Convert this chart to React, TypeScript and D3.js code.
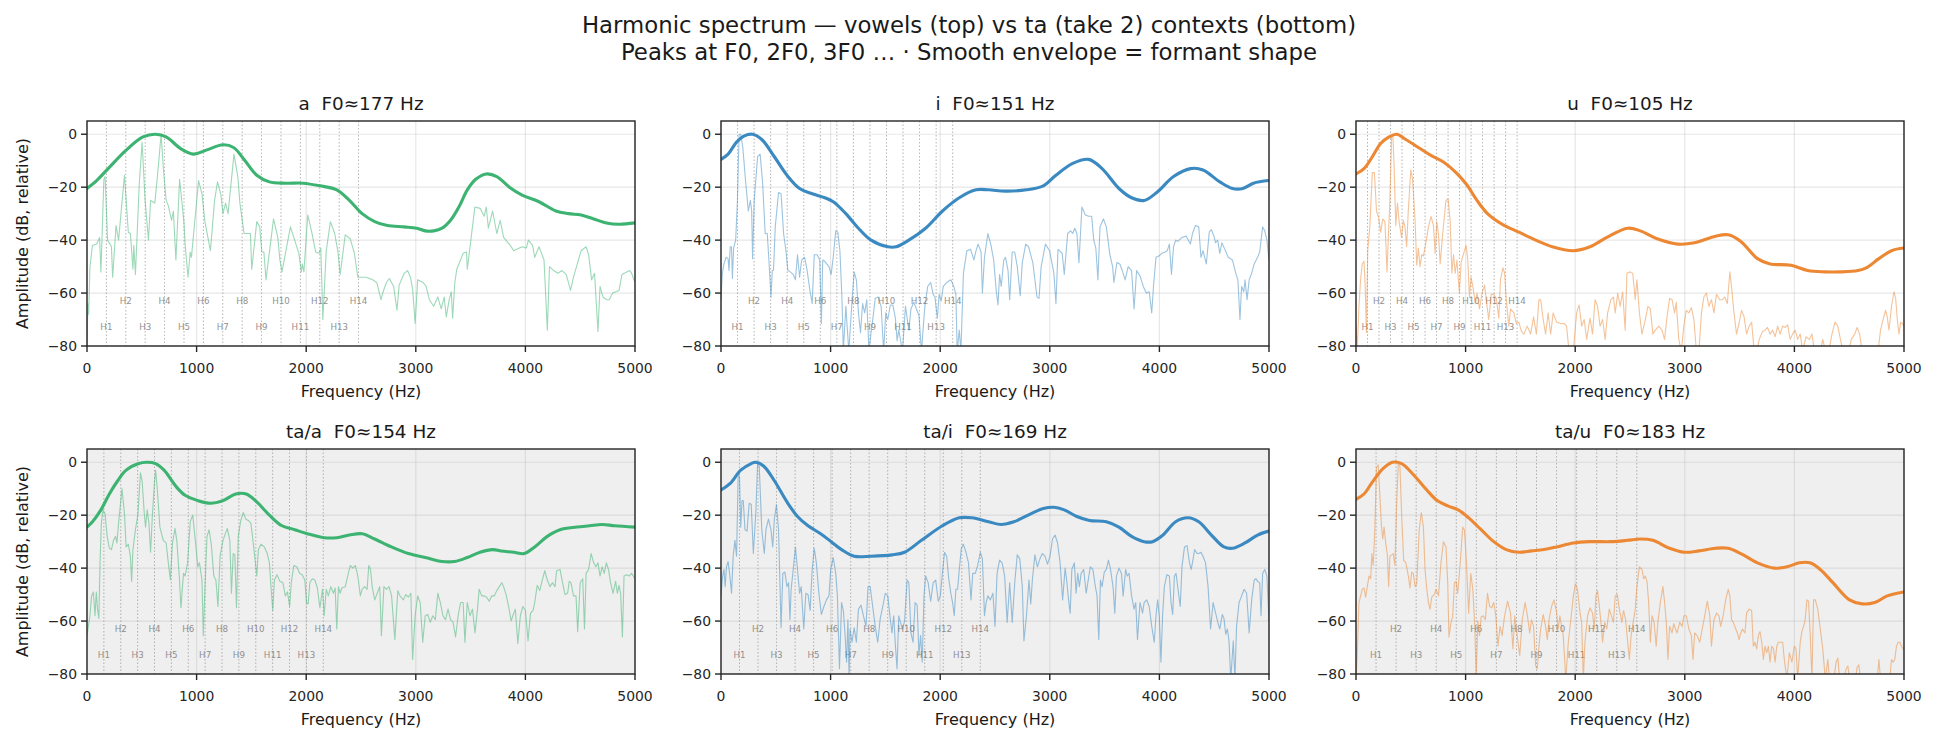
import React from "react";
import * as d3 from "d3";

type P = [number, number];

const SUPTITLE_1 = "Harmonic spectrum — vowels (top) vs ta (take 2) contexts (bottom)";
const SUPTITLE_2 = "Peaks at F0, 2F0, 3F0 … · Smooth envelope = formant shape";
const TITLES = ["a  F0≈177 Hz", "i  F0≈151 Hz", "u  F0≈105 Hz", "ta/a  F0≈154 Hz", "ta/i  F0≈169 Hz", "ta/u  F0≈183 Hz"];
const F0S = [177, 151, 105, 154, 169, 183];
const COLORS = ["#3cb371", "#3a89c1", "#ec8833", "#3cb371", "#3a89c1", "#ec8833"];
const X_TICKS = [0, 1000, 2000, 3000, 4000, 5000];
const Y_TICKS = [0, -20, -40, -60, -80];
const N_HARM = 14;

// ---- a ----
const specA: P[] = [[0,-80],[8,-64],[15,-68],[27,-50],[50,-42],[88,-41.5],[115,-39],[127,-52],[154,-17],[165,-16],[188,-40],[223,-42.5],[234,-54],[265,-34.5],[288,-40],[342,-15.5],[377,-37],[396,-37.5],[419,-51],[427,-42],[442,-53],[477,-18.5],[503,-3],[530,-25],[561,-40],[580,-25],[619,-26],[650,-12.5],[676,0],[696,-12.5],[722,-25],[742,-27],[772,-32.5],[788,-29],[811,-47.5],[845,-17],[884,-33],[895,-41.5],[922,-54],[942,-44.5],[953,-46.5],[992,-29],[1018,-17.5],[1049,-22.5],[1076,-33],[1126,-44],[1164,-25],[1191,-18],[1222,-23],[1241,-30],[1264,-26],[1287,-30],[1341,-7.5],[1376,-16],[1395,-26],[1433,-37.5],[1491,-37.5],[1503,-51],[1549,-33],[1576,-35],[1595,-44.5],[1614,-44.5],[1633,-55],[1702,-32],[1741,-39],[1760,-47.5],[1779,-52],[1856,-35],[1895,-40],[1933,-45],[1956,-52],[1964,-49],[1979,-52],[2014,-30.5],[2048,-36.5],[2087,-44.5],[2117,-45],[2133,-43],[2152,-70],[2183,-44],[2221,-33],[2260,-37.5],[2290,-44.5],[2310,-53],[2356,-38],[2402,-39.5],[2440,-45],[2471,-54],[2548,-54],[2606,-55],[2644,-56],[2682,-62.5],[2702,-59.5],[2732,-56],[2759,-54.5],[2798,-57.5],[2828,-66.5],[2848,-57],[2894,-52.5],[2925,-51.5],[2951,-54],[2971,-58.5],[2994,-71.5],[3017,-55],[3067,-56],[3094,-57.5],[3124,-62.5],[3163,-65],[3201,-61.5],[3232,-66],[3259,-61.5],[3278,-69],[3305,-62.5],[3324,-59.5],[3336,-69.5],[3355,-56.5],[3374,-51],[3432,-45],[3463,-44.5],[3470,-51],[3539,-27.5],[3586,-28],[3624,-31],[3643,-27.5],[3662,-35.5],[3701,-29],[3739,-37.5],[3770,-32.5],[3801,-39],[3862,-42],[3893,-44],[3970,-42.5],[4008,-43],[4027,-40],[4066,-42],[4085,-46.5],[4124,-42.5],[4170,-47.5],[4200,-74],[4220,-50],[4258,-51.5],[4296,-52.5],[4335,-51.5],[4373,-53],[4412,-59],[4439,-54],[4508,-44],[4554,-42.5],[4577,-45.5],[4604,-55],[4631,-52.5],[4662,-74.5],[4681,-57.5],[4708,-61.5],[4738,-62.5],[4765,-62.5],[4796,-60],[4854,-59],[4881,-53],[4950,-51.5],[4969,-52.5],[5000,-56]];
const envA: P[] = [[0,-20.5],[88,-17.5],[204,-12.5],[357,-6],[511,-1],[626,0],[722,-1],[857,-5.5],[972,-7.5],[1088,-6],[1241,-4],[1337,-5],[1433,-9.5],[1549,-15.5],[1664,-18],[1818,-18.5],[1971,-18.5],[2125,-19.5],[2279,-21],[2394,-25],[2510,-30],[2625,-33],[2740,-34.5],[2894,-35],[3009,-35.5],[3086,-36.5],[3163,-36.5],[3240,-35.5],[3317,-32.5],[3393,-27.5],[3470,-21],[3547,-17],[3643,-15],[3739,-16],[3854,-20],[3970,-23],[4124,-25.5],[4278,-29],[4393,-30],[4508,-30.5],[4623,-32],[4739,-33.5],[4854,-34],[5000,-33.5]];

// ---- i ----
const specI: P[] = [[0,-62.5],[12,-52.5],[27,-49],[46,-46.5],[65,-47],[73,-51.5],[84,-42.5],[96,-42.5],[104,-54.5],[115,-43],[134,-40],[150,-25],[165,0],[180,0],[199,-5],[226,-18.5],[249,-29],[268,-25],[280,-29],[288,-47],[303,-25],[334,-8.5],[357,-7.5],[380,-18.5],[403,-37.5],[422,-37.5],[437,-47.5],[456,-61.5],[468,-51.5],[479,-51.5],[495,-35],[525,-22],[548,-22.5],[571,-37.5],[594,-44.5],[610,-51.5],[633,-52],[659,-53],[679,-55],[698,-45.5],[717,-54],[736,-47.5],[763,-46.5],[786,-51.5],[813,-59.5],[832,-64],[851,-45.5],[878,-45.5],[901,-47.5],[916,-71.5],[928,-47.5],[947,-48],[985,-50],[1005,-53],[1024,-46.5],[1047,-36.5],[1066,-37],[1085,-44],[1104,-62.5],[1116,-82],[1139,-65],[1166,-82],[1196,-62.5],[1215,-52],[1235,-55],[1254,-67.5],[1273,-75],[1292,-64],[1311,-67.5],[1330,-62.5],[1350,-82],[1369,-75],[1392,-67.5],[1407,-62],[1434,-61.5],[1461,-65],[1484,-82],[1503,-67.5],[1522,-70],[1545,-64.5],[1568,-64.5],[1591,-69.5],[1607,-78],[1622,-74],[1656,-82],[1683,-65],[1714,-74],[1733,-66],[1760,-63.5],[1783,-66],[1806,-68.5],[1829,-82],[1860,-65],[1886,-57.5],[1913,-56],[1936,-60.5],[1952,-61.5],[1974,-69.5],[1990,-60.5],[2009,-63],[2028,-57.5],[2059,-56],[2097,-55],[2124,-57.5],[2143,-60.5],[2155,-82],[2174,-74],[2189,-82],[2212,-52.5],[2243,-44],[2277,-43.5],[2308,-47.5],[2327,-44],[2346,-41.5],[2373,-44.5],[2385,-60],[2404,-46.5],[2435,-37.5],[2461,-41.5],[2488,-47.5],[2511,-59],[2527,-64.5],[2542,-53],[2557,-57.5],[2580,-47.5],[2596,-46.5],[2619,-51.5],[2634,-62.5],[2657,-44.5],[2680,-44.5],[2703,-50],[2730,-61],[2749,-48.5],[2780,-41.5],[2806,-42.5],[2845,-48.5],[2883,-61.5],[2902,-62],[2921,-50],[2960,-41.5],[2998,-44],[3037,-52.5],[3056,-64],[3075,-43.5],[3113,-45],[3132,-53],[3163,-37.5],[3190,-36.5],[3209,-37.5],[3228,-35.5],[3247,-37.5],[3266,-48.5],[3293,-27.5],[3324,-30.5],[3355,-31],[3382,-31],[3401,-40],[3420,-43],[3439,-55],[3458,-35],[3489,-32],[3516,-35],[3546,-45],[3573,-50],[3585,-56],[3612,-48.5],[3639,-49],[3661,-51.5],[3688,-55],[3715,-50],[3746,-51.5],[3769,-66],[3792,-51.5],[3823,-53.5],[3853,-57.5],[3880,-60],[3907,-59.5],[3930,-67.5],[3946,-57.5],[3969,-46.5],[3995,-46],[4022,-45],[4053,-44.5],[4072,-44],[4091,-41.5],[4110,-53],[4129,-42.5],[4149,-40],[4168,-40.5],[4206,-39],[4244,-38.5],[4263,-40],[4283,-41.5],[4302,-37.5],[4329,-34.5],[4359,-35],[4379,-46.5],[4398,-44],[4428,-49],[4455,-37],[4474,-36],[4497,-38.5],[4513,-41],[4532,-40],[4551,-45],[4570,-41],[4597,-43.5],[4628,-46.5],[4666,-47.5],[4697,-52.5],[4716,-55],[4735,-70],[4750,-57.5],[4770,-59.5],[4781,-55],[4800,-62.5],[4819,-55],[4842,-52.5],[4865,-49],[4896,-46.5],[4915,-44.5],[4942,-35],[4961,-36.5],[4981,-40],[5000,-47.5]];
const envI: P[] = [[0,-9.5],[65,-7.5],[142,-3],[218,-0.5],[288,0],[372,-2],[487,-8.5],[602,-15.5],[717,-20.5],[832,-22.5],[947,-24],[1024,-25.5],[1139,-30],[1254,-35.5],[1369,-40],[1522,-42.5],[1599,-42.5],[1714,-40],[1867,-35.5],[2021,-29],[2174,-24],[2327,-21],[2442,-21],[2596,-21.5],[2787,-21],[2941,-19.5],[3056,-15.5],[3209,-11],[3355,-9.5],[3477,-13],[3631,-20.5],[3746,-24],[3861,-25],[3976,-22],[4129,-16],[4283,-13],[4398,-13.5],[4551,-18],[4666,-20.5],[4762,-20.5],[4858,-18.5],[5000,-17.5]];

// ---- u ----
const specU: P[] = [[0,-72.5],[11,-82],[27,-65],[42,-55],[57,-49],[73,-48],[84,-57.5],[95,-75],[107,-44],[126,-35],[149,-14.5],[168,-14.5],[187,-29],[206,-31.5],[225,-37],[244,-32],[264,-33],[283,-52],[294,-40],[309,-25],[325,-1],[336,0],[348,-12.5],[363,-34.5],[378,-26],[393,-33],[416,-39],[432,-32.5],[447,-35],[462,-42.5],[477,-29],[500,-13.5],[516,-17],[539,-32.5],[554,-49.5],[569,-43],[584,-50],[600,-45.5],[615,-46],[638,-41],[661,-35],[684,-31],[707,-34.5],[722,-45],[737,-33],[753,-38],[768,-49],[791,-37.5],[821,-25],[840,-24.5],[859,-32.5],[875,-52.5],[890,-45.5],[905,-52.5],[921,-47.5],[943,-60],[959,-48.5],[982,-45],[1005,-42],[1020,-47.5],[1035,-61.5],[1050,-54],[1066,-57.5],[1089,-64],[1104,-60],[1127,-66],[1150,-60],[1173,-57],[1188,-62.5],[1211,-70],[1234,-60.5],[1257,-60.5],[1280,-62],[1303,-69.5],[1318,-55],[1341,-50.5],[1356,-52.5],[1371,-62.5],[1394,-72.5],[1410,-66],[1440,-67.5],[1463,-71.5],[1486,-71],[1509,-74.5],[1532,-75.5],[1562,-72.5],[1593,-75.5],[1620,-69],[1646,-75.5],[1669,-62.5],[1685,-62.5],[1708,-70],[1730,-75.5],[1753,-67.5],[1776,-75.5],[1799,-67.5],[1830,-71],[1868,-71.5],[1898,-71.5],[1921,-72.5],[1944,-82],[1983,-82],[2013,-67.5],[2036,-64.5],[2059,-72.5],[2082,-70],[2105,-77.5],[2135,-69.5],[2158,-75.5],[2181,-62.5],[2204,-65],[2227,-72.5],[2250,-70],[2273,-77.5],[2296,-67.5],[2326,-62.5],[2349,-61.5],[2365,-67.5],[2388,-60],[2410,-65],[2433,-59.5],[2456,-74],[2472,-52.5],[2502,-52],[2525,-52.5],[2548,-62.5],[2563,-55],[2586,-67.5],[2609,-75.5],[2640,-70],[2663,-65],[2686,-66],[2709,-75.5],[2731,-74],[2762,-72.5],[2792,-74],[2815,-77.5],[2838,-69],[2861,-62],[2884,-62.5],[2907,-67.5],[2922,-63.5],[2945,-77.5],[2968,-82],[2991,-72.5],[3014,-66.5],[3037,-67.5],[3060,-65.5],[3083,-70],[3106,-82],[3129,-82],[3152,-67.5],[3174,-61.5],[3197,-60],[3220,-65],[3243,-62.5],[3266,-67.5],[3289,-60.5],[3319,-62.5],[3342,-62.5],[3365,-61.5],[3388,-64],[3411,-52],[3426,-57.5],[3449,-67.5],[3472,-75.5],[3495,-71.5],[3518,-66.5],[3541,-69],[3564,-75.5],[3587,-72.5],[3610,-71],[3633,-82],[3656,-82],[3679,-77.5],[3709,-74.5],[3732,-74],[3755,-73],[3778,-75.5],[3801,-74],[3824,-76.5],[3847,-72.5],[3870,-75.5],[3893,-72.5],[3915,-73],[3938,-72],[3961,-77.5],[3984,-75.5],[4007,-74],[4030,-77.5],[4053,-75.5],[4076,-82],[4106,-76.5],[4136,-77.5],[4160,-75.5],[4183,-82],[4236,-82],[4259,-77.5],[4282,-82],[4313,-82],[4343,-75.5],[4370,-71],[4396,-72.5],[4420,-77.5],[4443,-82],[4496,-82],[4519,-77.5],[4550,-75.5],[4572,-73],[4595,-75.5],[4618,-82],[4763,-82],[4786,-74],[4809,-70],[4832,-66.5],[4847,-69],[4863,-74],[4886,-65],[4909,-59.5],[4924,-62],[4939,-70],[4954,-75.5],[4970,-71],[4985,-71.5],[5000,-72.5]];
const envU: P[] = [[0,-15],[73,-13],[149,-8.5],[225,-3.5],[302,-1],[371,0],[455,-2],[569,-5],[684,-8],[798,-10.5],[913,-14.5],[1009,-19],[1104,-25],[1200,-30],[1333,-34],[1486,-37],[1639,-40],[1791,-42.5],[1983,-44],[2135,-42.5],[2288,-39],[2479,-35.5],[2594,-36.5],[2747,-39.5],[2938,-41.5],[3090,-41],[3281,-38.5],[3396,-38],[3511,-40.5],[3663,-47],[3778,-49],[3969,-49.5],[4122,-51.5],[4274,-52],[4427,-52],[4580,-51.5],[4656,-50.5],[4771,-47],[4886,-44],[5000,-43]];

// ---- ta/a ----
const specTaA: P[] = [[0,-65.5],[12,-62],[27,-58],[42,-50.5],[58,-49],[73,-58],[85,-49],[96,-55.5],[108,-59],[119,-38],[131,-23],[146,-18],[165,-19.5],[184,-28],[204,-32.5],[223,-33],[242,-29.5],[261,-28],[273,-30.5],[288,-23],[319,-10],[342,-19.5],[357,-32],[377,-31],[396,-35.5],[407,-45],[419,-33],[442,-25.5],[465,-19.5],[488,-4],[503,-7],[522,-19],[534,-24.5],[549,-18],[565,-23],[580,-34],[596,-20.5],[615,-8],[626,-3],[642,-10.5],[665,-24.5],[696,-29.5],[722,-30.5],[742,-38],[761,-44.5],[780,-30.5],[803,-25],[819,-29.5],[842,-43],[857,-55],[880,-42],[895,-43],[918,-38],[942,-22.5],[965,-20],[988,-29.5],[1011,-39.5],[1026,-38],[1049,-44.5],[1061,-65.5],[1076,-48],[1095,-28],[1114,-25.5],[1134,-31],[1157,-43],[1176,-44.5],[1195,-54.5],[1214,-35.5],[1241,-29.5],[1280,-25],[1303,-29.5],[1318,-49.5],[1334,-34.5],[1349,-35],[1364,-55],[1380,-28],[1403,-22],[1426,-19],[1449,-21.5],[1472,-22],[1495,-23],[1510,-28],[1530,-35.5],[1549,-43],[1564,-33],[1587,-31],[1618,-32],[1645,-34.5],[1664,-38],[1683,-49.5],[1695,-56],[1710,-44.5],[1733,-42.5],[1760,-45],[1787,-45.5],[1810,-50.5],[1829,-49],[1849,-54.5],[1864,-45.5],[1887,-39],[1914,-39.5],[1941,-42],[1964,-42.5],[1987,-44.5],[2003,-53],[2018,-53.5],[2033,-45.5],[2056,-44],[2079,-44.5],[2102,-47.5],[2125,-55],[2149,-48],[2164,-58],[2183,-48],[2202,-50.5],[2225,-47],[2248,-49.5],[2264,-47.5],[2279,-63],[2294,-47],[2310,-49.5],[2325,-47.5],[2356,-47],[2379,-43],[2402,-39],[2425,-40],[2448,-39],[2471,-43],[2494,-50.5],[2510,-48],[2533,-47],[2556,-48],[2571,-39],[2587,-40.5],[2602,-47],[2625,-52],[2648,-49.5],[2671,-47],[2686,-65.5],[2709,-47],[2733,-48],[2756,-47],[2779,-50.5],[2809,-67],[2836,-48.5],[2856,-50.5],[2886,-52],[2909,-50],[2932,-51],[2955,-49.5],[2971,-74.5],[2994,-58],[3017,-50.5],[3040,-53],[3063,-68],[3086,-58],[3109,-57.5],[3132,-60.5],[3155,-58],[3178,-59.5],[3201,-49.5],[3224,-53],[3248,-58],[3271,-59.5],[3294,-55.5],[3317,-59.5],[3340,-60.5],[3363,-66],[3386,-58],[3409,-53],[3432,-53],[3448,-68],[3470,-53],[3494,-58],[3517,-55.5],[3540,-64.5],[3563,-55.5],[3578,-48],[3601,-50.5],[3624,-50.5],[3647,-51],[3670,-52.5],[3693,-50.5],[3716,-50.5],[3739,-48.5],[3762,-47],[3785,-45.5],[3801,-47],[3824,-50],[3847,-54.5],[3870,-60],[3885,-58],[3908,-55.5],[3931,-68.5],[3954,-58],[3977,-54.5],[4000,-56],[4024,-67.5],[4047,-57],[4070,-56],[4085,-53],[4108,-46.5],[4131,-48.5],[4154,-44.5],[4177,-41],[4200,-44.5],[4224,-47],[4247,-45.5],[4270,-47],[4285,-41],[4316,-40.5],[4339,-45.5],[4362,-50],[4385,-49.5],[4400,-45],[4416,-45.5],[4439,-50.5],[4462,-50.5],[4477,-64],[4500,-45.5],[4523,-44],[4539,-63],[4554,-42],[4577,-40.5],[4600,-34.5],[4623,-38],[4643,-39.5],[4662,-38],[4681,-43],[4700,-39.5],[4719,-42],[4739,-38],[4758,-40.5],[4777,-45.5],[4800,-49.5],[4823,-45],[4839,-49.5],[4854,-46.5],[4869,-49.5],[4885,-66],[4900,-43],[4923,-42.5],[4946,-43],[4969,-42],[5000,-44]];
const envTaA: P[] = [[0,-24.5],[50,-22.5],[127,-18],[204,-12],[280,-7],[357,-3],[472,-0.5],[541,0],[626,-0.5],[703,-3],[819,-9.5],[895,-12.5],[1011,-14.5],[1126,-15.5],[1241,-14.5],[1357,-12],[1453,-12],[1549,-15],[1664,-20],[1779,-24],[1895,-25.5],[2010,-27],[2164,-28.5],[2279,-28.5],[2394,-27.5],[2510,-27],[2625,-29],[2779,-32],[2932,-34.5],[3086,-36],[3240,-37.5],[3355,-37.5],[3470,-36],[3586,-34],[3701,-33],[3778,-33.5],[3893,-34],[3989,-34.5],[4085,-32],[4200,-28],[4316,-25.5],[4470,-24.5],[4585,-24],[4700,-23.5],[4815,-24],[5000,-24.5]];

// ---- ta/i ----
const specTaI: P[] = [[0,-50.5],[15,-43],[27,-40.5],[38,-47],[50,-39.5],[65,-37.5],[81,-43],[96,-49.5],[111,-35.5],[127,-29.5],[142,-35.5],[157,-4.5],[169,-5.5],[180,-24.5],[192,-14.5],[203,-14.5],[219,-25.5],[238,-26],[257,-15.5],[276,-16],[295,-34.5],[318,-19],[334,-0.5],[349,-1.5],[372,-25.5],[395,-34.5],[410,-25.5],[433,-21.5],[456,-25.5],[472,-32],[487,-21.5],[506,-16],[525,-25.5],[548,-62.5],[564,-42],[583,-41.5],[602,-47],[617,-45.5],[629,-59.5],[640,-48],[659,-40.5],[679,-32],[698,-40.5],[717,-49.5],[732,-47],[755,-63],[774,-49.5],[794,-50],[813,-56],[832,-40.5],[851,-32.5],[870,-38],[893,-49.5],[916,-57.5],[939,-54.5],[962,-52],[985,-50.5],[1001,-40.5],[1024,-36],[1047,-42],[1062,-50.5],[1081,-78],[1100,-53],[1116,-56],[1131,-64.5],[1146,-75.5],[1158,-59.5],[1169,-82],[1177,-63],[1196,-68],[1215,-62.5],[1235,-68],[1254,-55.5],[1277,-54],[1300,-58],[1323,-62],[1342,-47],[1361,-47],[1384,-54.5],[1407,-62],[1430,-68],[1453,-59],[1476,-54.5],[1499,-49.5],[1522,-50.5],[1541,-58],[1560,-64.5],[1576,-58],[1591,-69],[1606,-78],[1622,-58],[1637,-60.5],[1656,-63],[1675,-60],[1698,-44.5],[1714,-45.5],[1733,-64.5],[1752,-68],[1771,-53],[1790,-54],[1806,-73],[1821,-65.5],[1836,-75.5],[1852,-50.5],[1867,-43],[1890,-45.5],[1913,-52.5],[1936,-45.5],[1959,-44.5],[1982,-52.5],[2001,-50.5],[2020,-42],[2040,-34],[2059,-35.5],[2078,-44],[2097,-49.5],[2113,-53],[2128,-58],[2143,-48],[2159,-48],[2174,-40.5],[2193,-32.5],[2212,-31],[2235,-34],[2258,-38],[2281,-52],[2297,-42],[2320,-42],[2342,-39],[2366,-34],[2385,-36.5],[2404,-58],[2419,-53],[2435,-50.5],[2458,-52],[2481,-49.5],[2500,-62],[2519,-42],[2542,-37],[2565,-38],[2588,-43],[2611,-60.5],[2634,-45.5],[2657,-60.5],[2680,-45.5],[2703,-35],[2726,-36.5],[2749,-47],[2764,-67.5],[2787,-58],[2810,-44.5],[2826,-53.5],[2841,-44.5],[2864,-35],[2887,-39.5],[2910,-36.5],[2933,-34.5],[2956,-35.5],[2979,-38.5],[3002,-35.5],[3025,-29],[3048,-27.5],[3071,-30.5],[3094,-38],[3117,-52],[3140,-40],[3155,-45],[3171,-52],[3186,-57],[3201,-40.5],[3224,-38],[3240,-49.5],[3255,-42],[3270,-47],[3286,-42],[3309,-40.5],[3332,-49.5],[3347,-45.5],[3370,-39.5],[3393,-40.5],[3416,-47],[3431,-50.5],[3447,-67],[3462,-44.5],[3477,-47],[3497,-41.5],[3516,-40.5],[3535,-37],[3554,-40.5],[3577,-47],[3593,-57],[3608,-43],[3631,-40],[3654,-42],[3669,-50.5],[3692,-40.5],[3707,-43],[3723,-42],[3746,-50.5],[3769,-55.5],[3784,-53],[3800,-67],[3823,-53],[3846,-57],[3861,-53],[3884,-52],[3907,-54.5],[3930,-62],[3953,-68],[3969,-58],[3984,-52],[3999,-58],[4014,-75.5],[4029,-58],[4045,-47],[4068,-42.5],[4091,-43],[4106,-53],[4121,-57.5],[4137,-43],[4152,-42],[4167,-47],[4190,-54.5],[4206,-39.5],[4229,-32],[4252,-31.5],[4275,-38],[4290,-40.5],[4306,-37],[4321,-33],[4344,-34.5],[4359,-34.5],[4379,-34],[4398,-35.5],[4421,-38],[4444,-47],[4467,-63],[4490,-53],[4513,-57],[4536,-61],[4551,-63],[4574,-57.5],[4589,-59],[4605,-65],[4620,-63],[4635,-67.5],[4651,-82],[4674,-67.5],[4689,-82],[4704,-62],[4727,-53],[4750,-50.5],[4773,-48],[4796,-49.5],[4819,-64.5],[4842,-52],[4865,-44.5],[4881,-44],[4896,-45],[4915,-45.5],[4927,-58],[4942,-42],[4961,-40.5],[4981,-43],[5000,-60]];
const envTaI: P[] = [[0,-10.5],[84,-8],[180,-3],[276,-0.5],[318,0],[391,-1.5],[487,-7],[602,-15],[698,-20.5],[794,-24],[909,-27],[1005,-30],[1100,-33],[1215,-35.5],[1369,-35.5],[1560,-35],[1675,-34],[1829,-29.5],[2020,-24],[2174,-21],[2289,-21],[2442,-22.5],[2557,-23.5],[2672,-22.5],[2826,-19.5],[2941,-17.5],[3037,-17],[3132,-18],[3247,-20.5],[3362,-22],[3516,-22.5],[3631,-24.5],[3746,-28],[3861,-30],[3938,-30],[4033,-27.5],[4148,-22.5],[4263,-21],[4359,-22.5],[4474,-27.5],[4589,-32],[4666,-32.5],[4781,-30.5],[4896,-27.5],[5000,-26]];

// ---- ta/u ----
const specTaU: P[] = [[0,-82],[11,-73],[27,-53],[42,-50.5],[57,-48],[73,-47.5],[88,-51],[103,-47],[119,-43],[134,-44],[145,-34.5],[157,-39],[172,-25.5],[187,-2],[203,-1],[218,-13],[233,-24.5],[244,-29],[256,-24.5],[271,-30.5],[286,-35],[298,-47],[309,-35.5],[325,-35],[340,-34.5],[355,-39],[371,-15.5],[386,-0.5],[401,-1.5],[416,-19.5],[435,-37],[455,-38],[478,-43],[493,-47.5],[508,-41.5],[523,-42],[539,-47],[554,-46],[577,-25.5],[596,-19],[615,-24.5],[630,-40.5],[646,-48],[661,-53],[676,-55.5],[691,-51],[714,-50],[730,-48],[753,-50.5],[775,-38],[798,-30],[821,-32],[837,-45.5],[848,-66],[867,-60.5],[882,-58.5],[898,-45.5],[913,-45],[928,-49.5],[951,-38],[974,-24.5],[989,-25.5],[1008,-38],[1028,-57],[1047,-42],[1066,-48],[1085,-63],[1096,-82],[1112,-60],[1127,-65.5],[1142,-58.5],[1161,-58],[1180,-59.5],[1200,-49.5],[1219,-54.5],[1238,-55],[1257,-53],[1276,-58],[1295,-69.5],[1314,-62],[1333,-65.5],[1356,-58],[1383,-52.5],[1410,-57],[1432,-70.5],[1448,-58],[1471,-65.5],[1494,-73],[1517,-59.5],[1543,-53],[1562,-57.5],[1585,-64.5],[1601,-59.5],[1620,-62],[1639,-77],[1654,-78],[1669,-69.5],[1685,-63],[1708,-57.5],[1730,-62],[1746,-67],[1761,-59.5],[1784,-54.5],[1807,-52],[1830,-56.5],[1845,-63],[1860,-58],[1876,-62],[1891,-65.5],[1914,-82],[1937,-68],[1960,-59.5],[1983,-50.5],[2002,-46],[2021,-48],[2044,-57],[2059,-60.5],[2074,-82],[2089,-68],[2113,-58],[2135,-55],[2158,-57],[2174,-63],[2189,-50.5],[2204,-48.5],[2219,-54],[2235,-60.5],[2250,-68],[2269,-60.5],[2288,-63],[2311,-55.5],[2334,-58.5],[2349,-60.5],[2365,-50.5],[2384,-50],[2403,-55.5],[2426,-60.5],[2441,-56],[2460,-59.5],[2479,-68],[2494,-74.5],[2510,-65.5],[2529,-60.5],[2548,-55.5],[2563,-47],[2586,-39.5],[2609,-40.5],[2625,-44],[2640,-43],[2655,-45],[2670,-53],[2686,-68],[2701,-58],[2720,-60.5],[2739,-69.5],[2754,-60.5],[2777,-53],[2800,-47],[2816,-53],[2831,-60.5],[2846,-74.5],[2861,-62],[2884,-64.5],[2899,-61],[2915,-63],[2930,-64.5],[2953,-60.5],[2976,-62],[2991,-58],[3014,-58],[3037,-63],[3060,-65.5],[3075,-74.5],[3090,-64.5],[3113,-65.5],[3136,-68],[3159,-63],[3182,-58],[3205,-52.5],[3228,-58],[3243,-69.5],[3266,-59.5],[3289,-57],[3312,-58],[3327,-62],[3350,-58],[3373,-52],[3396,-48],[3411,-50.5],[3427,-59.5],[3442,-60.5],[3465,-63],[3480,-64.5],[3495,-67],[3511,-64.5],[3526,-63],[3549,-64.5],[3564,-57],[3587,-55.5],[3610,-56],[3625,-69.5],[3640,-68],[3656,-70.5],[3671,-65.5],[3686,-64],[3702,-68],[3717,-74.5],[3732,-69.5],[3747,-72],[3763,-69.5],[3778,-75.5],[3793,-69.5],[3809,-70.5],[3824,-75.5],[3839,-69.5],[3854,-68],[3877,-68],[3893,-68],[3908,-74.5],[3931,-82],[3954,-72],[3977,-75.5],[4000,-69.5],[4015,-70.5],[4030,-82],[4053,-68],[4068,-64],[4084,-62],[4099,-59.5],[4114,-52],[4129,-52.5],[4145,-65.5],[4160,-82],[4175,-52],[4191,-52],[4213,-55.5],[4236,-63],[4259,-70.5],[4282,-82],[4305,-74.5],[4320,-82],[4359,-82],[4381,-75.5],[4397,-74],[4412,-82],[4450,-82],[4473,-78],[4488,-77],[4503,-82],[4557,-82],[4572,-77.5],[4588,-76.5],[4603,-82],[4756,-82],[4771,-74.5],[4786,-82],[4870,-82],[4886,-74.5],[4901,-75.5],[4916,-74.5],[4931,-69.5],[4947,-68],[4962,-68],[4977,-69.5],[5000,-71]];
const envTaU: P[] = [[0,-14],[73,-12],[149,-7.5],[244,-2.5],[332,0],[416,-0.5],[531,-5],[646,-10.5],[741,-14.5],[837,-16.5],[932,-18],[1028,-21],[1142,-25.5],[1257,-30],[1371,-33],[1486,-34],[1601,-33.5],[1715,-33],[1830,-32],[1983,-30.5],[2135,-30],[2326,-30],[2479,-29.5],[2594,-29],[2708,-29.5],[2861,-32.5],[2995,-34],[3129,-33.5],[3281,-32.5],[3396,-32.5],[3511,-34.5],[3663,-38],[3816,-40],[3931,-39.5],[4045,-38],[4141,-38],[4236,-40.5],[4351,-45.5],[4503,-52],[4618,-53.5],[4733,-53],[4847,-50.5],[5000,-49]];

const SPECTRA = [specA, specI, specU, specTaA, specTaI, specTaU];
const ENVELOPES = [envA, envI, envU, envTaA, envTaI, envTaU];

const W = 1938;
const H = 745;
const COL_X = [87, 721, 1356];
const ROW_Y = [121, 449];
const PW = 548;
const PH = 225;
const FONT = "DejaVu Sans, sans-serif";

function Panel({ idx }: { idx: number }) {
  const col = idx % 3;
  const row = Math.floor(idx / 3);
  const x0 = COL_X[col];
  const y0 = ROW_Y[row];
  const x = d3.scaleLinear().domain([0, 5000]).range([x0, x0 + PW]);
  const y = d3.scaleLinear().domain([-80, 5]).range([y0 + PH, y0]);
  const color = COLORS[idx];
  const f0 = F0S[idx];
  const thin = d3.line<P>().x((d) => x(d[0])).y((d) => y(d[1]));
  const thick = d3
    .line<P>()
    .x((d) => x(d[0]))
    .y((d) => y(d[1]))
    .curve(d3.curveCatmullRom.alpha(0.5));
  const harmonics = d3.range(1, N_HARM + 1).map((n) => n * f0).filter((f) => f < 5000);
  const clipId = `clip${idx}`;
  return (
    <g>
      <defs>
        <clipPath id={clipId}>
          <rect x={x0} y={y0} width={PW} height={PH} />
        </clipPath>
      </defs>
      <rect x={x0} y={y0} width={PW} height={PH} fill={row === 1 ? "#efefef" : "#ffffff"} />
      {X_TICKS.map((t) => (
        <line key={"gx" + t} x1={x(t)} x2={x(t)} y1={y0} y2={y0 + PH} stroke="#b0b0b0" strokeOpacity={0.3} strokeWidth={1.2} />
      ))}
      {Y_TICKS.map((t) => (
        <line key={"gy" + t} x1={x0} x2={x0 + PW} y1={y(t)} y2={y(t)} stroke="#b0b0b0" strokeOpacity={0.3} strokeWidth={1.2} />
      ))}
      {harmonics.map((f, i) => (
        <g key={"h" + i}>
          <line x1={x(f)} x2={x(f)} y1={y0} y2={y0 + PH} stroke="#8c8c8c" strokeWidth={0.8} strokeDasharray="1.5,2" opacity={0.8} />
          <text
            x={x(f)}
            y={y(i % 2 === 0 ? -73 : -63)}
            textAnchor="middle"
            dominantBaseline="central"
            fontSize={8.7}
            fontFamily={FONT}
            fill="#808080"
            opacity={0.85}
          >
            {"H" + (i + 1)}
          </text>
        </g>
      ))}
      <g clipPath={`url(#${clipId})`}>
        <path d={thin(SPECTRA[idx]) || ""} fill="none" stroke={color} strokeWidth={1.1} strokeOpacity={0.5} strokeLinejoin="round" />
        <path d={thick(ENVELOPES[idx]) || ""} fill="none" stroke={color} strokeWidth={3.1} strokeLinecap="round" />
      </g>
      <rect x={x0} y={y0} width={PW} height={PH} fill="none" stroke="#262626" strokeWidth={1.4} />
      {X_TICKS.map((t) => (
        <g key={"xt" + t}>
          <line x1={x(t)} x2={x(t)} y1={y0 + PH} y2={y0 + PH + 6} stroke="#262626" strokeWidth={1.4} />
          <text x={x(t)} y={y0 + PH + 26.5} textAnchor="middle" fontSize={13.9} fontFamily={FONT} fill="#262626">
            {String(t)}
          </text>
        </g>
      ))}
      {Y_TICKS.map((t) => (
        <g key={"yt" + t}>
          <line x1={x0 - 6} x2={x0} y1={y(t)} y2={y(t)} stroke="#262626" strokeWidth={1.4} />
          <text x={x0 - 10} y={y(t) + 5} textAnchor="end" fontSize={13.9} fontFamily={FONT} fill="#262626">
            {t < 0 ? "\u2212" + Math.abs(t) : String(t)}
          </text>
        </g>
      ))}
      <text x={x0 + PW / 2} y={y0 + PH + 51} textAnchor="middle" fontSize={16} fontFamily={FONT} fill="#1a1a1a">
        Frequency (Hz)
      </text>
      {col === 0 && (
        <text
          transform={`translate(${28},${y0 + PH / 2}) rotate(-90)`}
          textAnchor="middle"
          fontSize={16}
          fontFamily={FONT}
          fill="#1a1a1a"
        >
          Amplitude (dB, relative)
        </text>
      )}
      <text x={x0 + PW / 2} y={y0 - 11} textAnchor="middle" fontSize={18.4} fontFamily={FONT} fill="#1a1a1a" style={{ whiteSpace: "pre" }}>
        {TITLES[idx]}
      </text>
    </g>
  );
}

export default function App() {
  return (
    <svg width={W} height={H} viewBox={`0 0 ${W} ${H}`} style={{ position: "absolute", left: 0, top: 0, background: "#ffffff" }}>
      <rect x={0} y={0} width={W} height={H} fill="#ffffff" />
      <text x={W / 2} y={32.5} textAnchor="middle" fontSize={22.8} fontFamily={FONT} fill="#1a1a1a">
        {SUPTITLE_1}
      </text>
      <text x={W / 2} y={60} textAnchor="middle" fontSize={22.8} fontFamily={FONT} fill="#1a1a1a">
        {SUPTITLE_2}
      </text>
      {[0, 1, 2, 3, 4, 5].map((i) => (
        <Panel key={i} idx={i} />
      ))}
    </svg>
  );
}
